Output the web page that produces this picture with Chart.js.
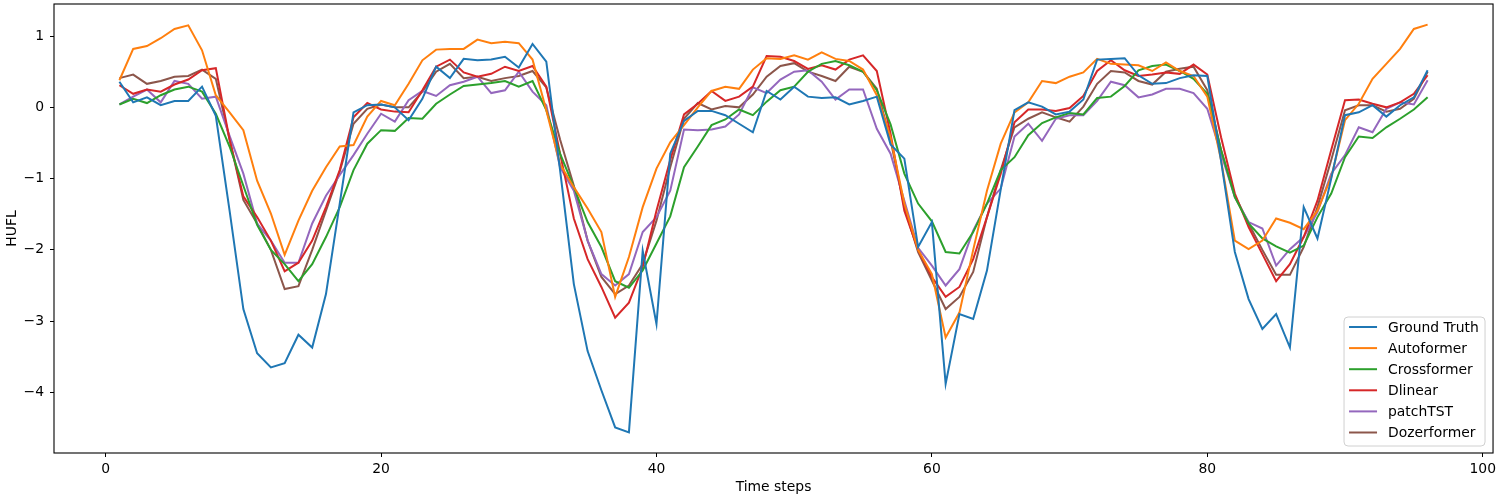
<!DOCTYPE html>
<html>
<head>
<meta charset="utf-8">
<script src="https://cdn.jsdelivr.net/npm/chart.js@4.4.1/dist/chart.umd.min.js"></script>
<style>
  body { margin: 0; background: #fff; }
  #wrap { width: 1500px; height: 500px; }
</style>
</head>
<body>
<div id="wrap"><canvas id="chart" width="1500" height="500"></canvas></div>
<script>
// time steps 1..96
const steps = [1,2,3,4,5,6,7,8,9,10,11,12,13,14,15,16,17,18,19,20,21,22,23,24,25,26,27,28,29,30,31,32,
  33,34,35,36,37,38,39,40,41,42,43,44,45,46,47,48,49,50,51,52,53,54,55,56,57,58,59,60,61,62,63,64,
  65,66,67,68,69,70,71,72,73,74,75,76,77,78,79,80,81,82,83,84,85,86,87,88,89,90,91,92,93,94,95,96];

const groundTruth = [0.36,0.07,0.14,0.03,0.09,0.09,0.29,-0.12,-1.45,-2.83,-3.45,-3.65,-3.59,-3.19,-3.37,-2.62,
  -1.35,-0.07,0.03,0.04,0.0,-0.18,0.12,0.57,0.41,0.68,0.66,0.67,0.71,0.56,0.89,0.64,
  -0.88,-2.48,-3.42,-3.97,-4.49,-4.56,-2.01,-3.04,-0.65,-0.19,-0.05,-0.05,-0.11,-0.23,-0.35,0.23,
  0.11,0.29,0.15,0.13,0.14,0.04,0.09,0.15,-0.52,-0.72,-1.96,-1.61,-3.88,-2.9,-2.97,-2.29,
  -1.15,-0.04,0.07,0.01,-0.1,-0.06,0.11,0.67,0.68,0.69,0.45,0.33,0.34,0.41,0.45,0.44,
  -0.75,-2.03,-2.69,-3.11,-2.9,-3.37,-1.4,-1.84,-1.0,-0.11,-0.07,0.03,-0.13,0.03,0.14,0.52];

const autoformer = [0.38,0.82,0.86,0.97,1.10,1.15,0.80,0.17,-0.07,-0.32,-1.03,-1.49,-2.07,-1.59,-1.17,-0.84,
  -0.55,-0.53,-0.13,0.09,0.03,0.33,0.66,0.81,0.82,0.82,0.95,0.9,0.92,0.9,0.67,-0.04,
  -0.8,-1.12,-1.42,-1.75,-2.66,-2.1,-1.4,-0.86,-0.49,-0.25,0.0,0.23,0.29,0.26,0.53,0.69,
  0.68,0.73,0.67,0.77,0.68,0.65,0.53,0.17,-0.42,-1.35,-2.0,-2.34,-3.23,-2.88,-2.0,-1.17,
  -0.51,-0.07,0.07,0.37,0.34,0.43,0.49,0.68,0.61,0.6,0.59,0.51,0.63,0.51,0.44,0.15,
  -0.74,-1.87,-1.99,-1.87,-1.56,-1.62,-1.71,-1.45,-0.98,-0.18,0.05,0.4,0.61,0.82,1.1,1.16];

const crossformer = [0.04,0.12,0.06,0.17,0.25,0.29,0.22,-0.09,-0.55,-1.1,-1.65,-2.0,-2.2,-2.44,-2.2,-1.82,
  -1.4,-0.88,-0.51,-0.32,-0.33,-0.15,-0.16,0.05,0.18,0.30,0.32,0.34,0.37,0.29,0.37,-0.04,
  -0.65,-1.12,-1.61,-1.96,-2.44,-2.53,-2.29,-1.91,-1.53,-0.84,-0.55,-0.25,-0.17,-0.03,-0.11,0.08,
  0.24,0.29,0.5,0.61,0.65,0.59,0.5,0.24,-0.24,-0.93,-1.35,-1.6,-2.03,-2.05,-1.75,-1.35,
  -0.88,-0.7,-0.39,-0.22,-0.14,-0.08,-0.1,0.13,0.15,0.3,0.52,0.58,0.6,0.51,0.4,0.19,
  -0.6,-1.26,-1.63,-1.84,-1.95,-2.04,-1.94,-1.54,-1.21,-0.7,-0.41,-0.43,-0.28,-0.16,-0.03,0.14];

const dlinear = [0.31,0.19,0.25,0.22,0.32,0.39,0.52,0.55,-0.45,-1.25,-1.54,-1.87,-2.3,-2.18,-1.87,-1.4,
  -0.88,-0.14,0.06,-0.03,-0.06,-0.07,0.24,0.57,0.67,0.49,0.43,0.47,0.57,0.51,0.58,0.29,
  -0.65,-1.56,-2.13,-2.52,-2.95,-2.74,-2.24,-1.45,-0.74,-0.1,0.05,0.23,0.09,0.15,0.29,0.72,
  0.71,0.65,0.54,0.59,0.53,0.67,0.73,0.51,-0.37,-1.45,-2.0,-2.38,-2.66,-2.52,-2.13,-1.54,
  -0.93,-0.21,-0.03,-0.03,-0.05,-0.01,0.16,0.51,0.66,0.52,0.44,0.46,0.49,0.47,0.6,0.46,
  -0.42,-1.21,-1.68,-2.06,-2.44,-2.2,-1.82,-1.31,-0.6,0.1,0.11,0.05,0.0,0.07,0.19,0.45];

const patchTST = [0.04,0.15,0.25,0.07,0.37,0.33,0.12,0.15,-0.4,-0.93,-1.63,-1.87,-2.18,-2.18,-1.63,-1.24,
  -0.95,-0.67,-0.37,-0.09,-0.2,0.1,0.23,0.16,0.31,0.36,0.43,0.2,0.24,0.5,0.22,0.03,
  -0.84,-1.17,-1.87,-2.34,-2.5,-2.34,-1.75,-1.54,-1.17,-0.31,-0.32,-0.31,-0.27,-0.1,0.28,0.2,
  0.39,0.5,0.52,0.36,0.11,0.25,0.25,-0.3,-0.65,-1.31,-1.97,-2.22,-2.5,-2.27,-1.73,-1.35,
  -1.14,-0.41,-0.23,-0.47,-0.16,-0.11,-0.11,0.09,0.36,0.31,0.14,0.18,0.26,0.26,0.2,-0.02,
  -0.65,-1.26,-1.61,-1.7,-2.22,-1.99,-1.82,-1.47,-0.93,-0.67,-0.28,-0.35,-0.02,0.07,0.04,0.38];

const dozerformer = [0.41,0.46,0.33,0.37,0.43,0.44,0.53,0.40,-0.45,-1.3,-1.63,-2.0,-2.55,-2.51,-2.0,-1.45,
  -0.9,-0.23,-0.02,0.04,0.0,0.0,0.22,0.5,0.61,0.41,0.43,0.37,0.41,0.44,0.51,0.28,
  -0.45,-1.1,-1.87,-2.38,-2.62,-2.5,-2.2,-1.59,-0.84,-0.16,0.06,-0.03,0.02,0.0,0.18,0.43,
  0.58,0.62,0.5,0.44,0.37,0.57,0.5,0.26,-0.46,-1.4,-2.03,-2.43,-2.83,-2.66,-2.31,-1.54,
  -0.88,-0.28,-0.16,-0.07,-0.14,-0.2,0.01,0.33,0.51,0.49,0.37,0.32,0.5,0.54,0.57,0.24,
  -0.6,-1.24,-1.63,-2.0,-2.35,-2.35,-1.96,-1.4,-0.74,-0.04,0.03,0.03,-0.06,-0.02,0.12,0.5];

const seriesNames = ['Ground Truth', 'Autoformer', 'Crossformer', 'Dlinear', 'patchTST', 'Dozerformer'];
const seriesValues = [groundTruth, autoformer, crossformer, dlinear, patchTST, dozerformer];
const colors = ['#1f77b4', '#ff7f0e', '#2ca02c', '#d62728', '#9467bd', '#8c564b'];

const xTicks = [0, 20, 40, 60, 80, 100];
const yTicks = [-4, -3, -2, -1, 0, 1];

const FONT = { family: '"DejaVu Sans", sans-serif', size: 13.9 };
const minus = v => String(v).replace('-', '\u2212');

// black frame around the plot area
const frameBox = {
  id: 'frameBox',
  afterDatasetsDraw(chart) {
    const { ctx, chartArea: a } = chart;
    ctx.save();
    ctx.strokeStyle = '#000';
    ctx.lineWidth = 1.1;
    ctx.strokeRect(a.left, a.top, a.right - a.left, a.bottom - a.top);
    ctx.restore();
  }
};

// matplotlib style legend, lower right inside the axes
const boxLegend = {
  id: 'boxLegend',
  afterDraw(chart) {
    const { ctx, chartArea: a } = chart;
    const w = 141, h = 129;
    const x0 = a.right - 8 - w, y0 = a.bottom - 7 - h;
    ctx.save();
    ctx.beginPath();
    ctx.roundRect(x0, y0, w, h, 4);
    ctx.fillStyle = 'rgba(255,255,255,0.8)';
    ctx.fill();
    ctx.strokeStyle = '#d0d0d0';
    ctx.lineWidth = 1;
    ctx.stroke();
    ctx.font = '13.9px "DejaVu Sans", sans-serif';
    ctx.textBaseline = 'middle';
    ctx.fillStyle = '#000';
    chart.data.datasets.forEach((ds, i) => {
      const y = y0 + 10 + i * 21.1;
      ctx.beginPath();
      ctx.moveTo(x0 + 5, y);
      ctx.lineTo(x0 + 33, y);
      ctx.strokeStyle = ds.borderColor;
      ctx.lineWidth = 2;
      ctx.stroke();
      ctx.fillText(ds.label, x0 + 44, y + 1);
    });
    ctx.restore();
  }
};

new Chart(document.getElementById('chart').getContext('2d'), {
  type: 'line',
  data: {
    datasets: seriesNames.map((name, k) => ({
      label: name,
      data: seriesValues[k].map((v, i) => ({ x: steps[i], y: v })),
      borderColor: colors[k],
      backgroundColor: colors[k],
      borderWidth: 2,
      pointRadius: 0,
      tension: 0,
      fill: false
    }))
  },
  options: {
    responsive: false,
    animation: false,
    devicePixelRatio: 1,
    layout: { padding: { top: 4, right: 5, left: 0, bottom: 0 } },
    plugins: {
      legend: { display: false },
      tooltip: { enabled: false }
    },
    scales: {
      x: {
        type: 'linear',
        min: -3.75,
        max: 100.75,
        afterBuildTicks: s => { s.ticks = xTicks.map(v => ({ value: v })); },
        afterFit: s => { s.height = 47; },
        grid: { display: true, drawOnChartArea: false, drawTicks: true, tickLength: 4, color: '#000' },
        border: { display: false },
        ticks: { color: '#000', font: FONT, padding: 4, maxRotation: 0, callback: v => minus(v) },
        title: { display: true, text: 'Time steps', color: '#000', font: FONT, padding: { top: 4, bottom: 4 } }
      },
      y: {
        type: 'linear',
        min: -4.85,
        max: 1.45,
        afterBuildTicks: s => { s.ticks = yTicks.map(v => ({ value: v })); },
        afterFit: s => { s.width = 54; s.paddingTop = 0; s.paddingBottom = 0; },
        grid: { display: true, drawOnChartArea: false, drawTicks: true, tickLength: 4, color: '#000' },
        border: { display: false },
        ticks: { color: '#000', font: FONT, padding: 6, callback: v => minus(v) },
        title: { display: true, text: 'HUFL', color: '#000', font: FONT, padding: { top: 4, bottom: 4 } }
      }
    }
  },
  plugins: [frameBox, boxLegend]
});
</script>
</body>
</html>
